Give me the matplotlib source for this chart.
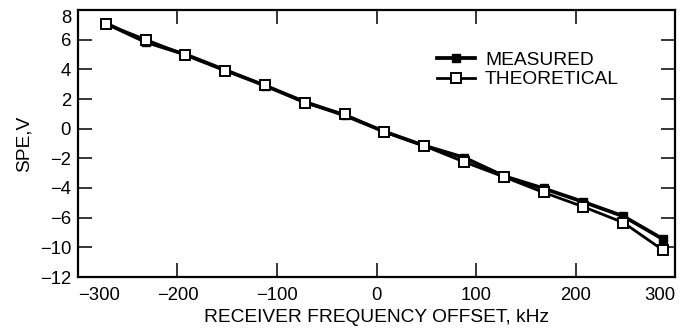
import matplotlib
matplotlib.use("Agg")
import matplotlib.pyplot as plt

# Data
freq_khz = [-272, -232, -192, -152, -112, -72, -32, 8, 48, 88, 128, 168, 208, 248, 288]
measured = [7.1, 5.85, 5.0, 3.95, 2.9, 1.8, 0.9, -0.2, -1.15, -1.95, -3.2, -4.03, -4.94, -5.9, -7.45]
theoretical = [7.05, 6.01, 4.96, 3.9, 2.93, 1.74, 0.96, -0.22, -1.16, -2.24, -3.25, -4.3, -5.27, -6.33, -8.19]

x_ticks = [-300, -200, -100, 0, 100, 200, 300]
x_tick_labels = ["\u2212300", "\u2212200", "\u2212100", "0", "100", "200", "300"]
y_ticks = [8, 6, 4, 2, 0, -2, -4, -6, -8, -10]
y_tick_labels = ["8", "6", "4", "2", "0", "\u22122", "\u22124", "\u22126", "\u221210", "\u221212"]

plt.rcParams['font.family'] = ['Liberation Sans', 'DejaVu Sans']

W, H = 691, 331
fig = plt.figure(figsize=(W / 100, H / 100), dpi=100)
ax = fig.add_axes([78 / W, 1 - 277 / H, (675 - 78) / W, (277 - 10) / H])

ax.plot(freq_khz, measured, color='black', lw=2.7, marker='s', ms=6,
        mfc='black', mec='black', label='MEASURED', zorder=3)
ax.plot(freq_khz, theoretical, color='black', lw=2.0, marker='s', ms=7,
        mfc='white', mec='black', mew=1.4, label='THEORETICAL', zorder=4)

ax.set_xlim(-300, 300)
ax.set_ylim(-10, 8)
ax.set_xticks(x_ticks)
ax.set_xticklabels(x_tick_labels, fontsize=13.3)
ax.set_yticks(y_ticks)
ax.set_yticklabels(y_tick_labels, fontsize=13.3)

xl = ax.get_xticklabels()
xl[0].set_horizontalalignment('left')
xl[-1].set_horizontalalignment('right')
yl = ax.get_yticklabels()
yl[0].set_verticalalignment('top')

ax.tick_params(axis='both', direction='in', length=10, width=1.1,
               top=True, right=True, labeltop=False, labelright=False)
ax.tick_params(axis='x', pad=7)
ax.tick_params(axis='y', pad=5)
for s in ax.spines.values():
    s.set_linewidth(1.6)

ax.set_xlabel("RECEIVER FREQUENCY OFFSET, kHz", fontsize=13.8, labelpad=4)
ax.set_ylabel("SPE,V", fontsize=13.8, labelpad=5)

leg = ax.legend(loc='center left', bbox_to_anchor=(437 / W, 1 - 70 / H),
                bbox_transform=fig.transFigure, frameon=False, fontsize=13.8,
                numpoints=1, handlelength=2.0, handletextpad=0.5,
                labelspacing=0.1, borderpad=0, borderaxespad=0)

fig.savefig("out.png", dpi=100)
